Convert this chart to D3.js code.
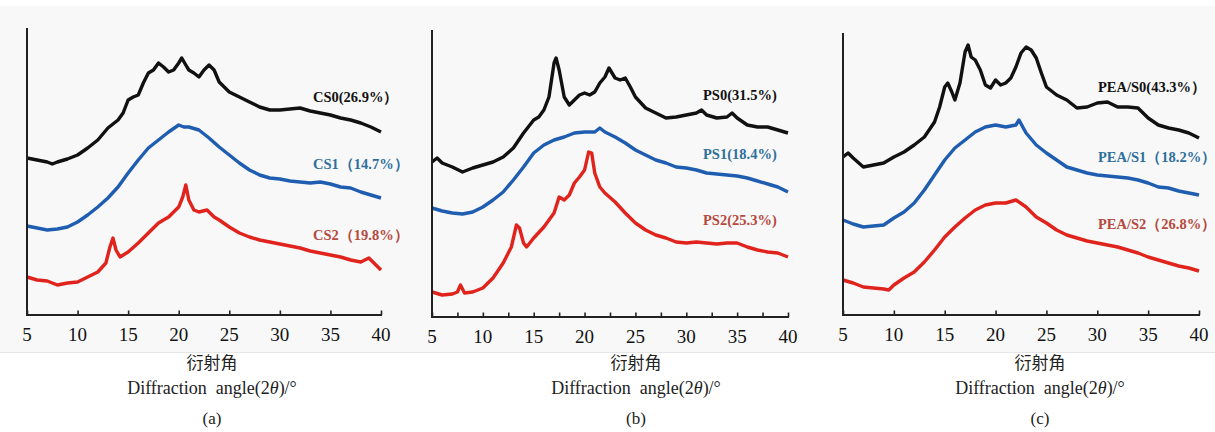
<!DOCTYPE html>
<html>
<head>
<meta charset="utf-8">
<script src="https://cdn.jsdelivr.net/npm/d3@7"></script>
<style>
  html, body { margin: 0; padding: 0; background: #ffffff; }
  svg { display: block; }
  .serif { font-family: "Liberation Serif", "Times New Roman", "DejaVu Serif", "Noto Serif", serif; }
  .cjk { font-family: "Noto Sans CJK SC", "Noto Sans CJK JP", sans-serif; }
</style>
</head>
<body>
<svg id="chart" width="1215" height="432"></svg>
<script>
// ---------------- data (2θ in degrees, intensity in arbitrary units) ----------------
const xTicks = [5, 10, 15, 20, 25, 30, 35, 40];
const panelLetters = ["(a)", "(b)", "(c)"];
const axisTitleCN = "衍射角";

// Panel (a)
const CS0 = [[5,157],[6,155],[7,153],[7.5,151],[8,153],[9,156],[10,160],[11,167],[12,175],[13,187],[14,195],[14.5,202],[15,215],[15.5,218],[16,220],[16.5,232],[17,242],[17.5,245],[18,252],[18.5,248],[19,243],[19.5,245],[20,252],[20.3,257],[20.7,250],[21,245],[21.5,242],[22,238],[22.5,245],[23,250],[23.5,245],[24,233],[24.5,228],[25,223],[26,218],[27,213],[28,208],[29,205],[30,205],[31,206],[32,207],[33,204],[34,202],[35,200],[36,197],[37,195],[38,192],[39,188],[40,183]];
const CS1 = [[5,89],[6,87],[7,85],[8,86],[9,88],[10,93],[11,100],[12,108],[13,117],[14,128],[15,142],[16,155],[17,167],[18,175],[19,183],[20,190],[20.5,188],[21,188],[22,185],[23,177],[24,168],[25,160],[26,152],[27,145],[28,140],[29,137],[30,136],[31,134],[32,133],[33,132],[34,133],[35,131],[36,128],[37,127],[38,123],[39,120],[40,117]];
const CS2 = [[5,38],[6,35],[7,34],[8,30],[9,32],[10,33],[11,38],[12,43],[12.8,52],[13.2,68],[13.5,77],[13.8,65],[14.2,58],[15,63],[16,72],[17,82],[18,92],[19,98],[20,108],[20.4,118],[20.7,130],[21,115],[21.5,105],[22,103],[22.8,105],[23.5,98],[24,95],[25,88],[26,82],[27,78],[28,75],[29,73],[30,71],[31,69],[32,67],[33,64],[34,62],[35,60],[36,58],[37,55],[38,53],[38.8,57],[39.5,50],[40,45]];

// Panel (b)
const PS0 = [[5,155],[5.5,159],[6,154],[7,150],[8,145],[9,149],[10,152],[11,155],[12,160],[13,169],[14,184],[15,197],[15.5,200],[16,207],[16.5,220],[17,254],[17.2,259],[17.5,247],[18,220],[18.5,212],[19,217],[19.5,222],[20,224],[20.5,222],[21,225],[21.5,234],[22,240],[22.4,249],[23,239],[23.5,237],[24,239],[24.5,230],[25,220],[26,209],[27,204],[28,199],[29,200],[30,202],[31,204],[31.5,207],[32,202],[33,199],[34,200],[34.5,204],[35,199],[36,192],[37,190],[38,190],[39,187],[40,184]];
const PS1 = [[5,109],[6,106],[7,104],[8,103],[9,105],[10,110],[11,117],[12,125],[13,137],[14,150],[15,164],[16,172],[17,177],[18,180],[19,184],[20,185],[21,185],[21.5,189],[22,185],[23,180],[24,174],[25,167],[26,162],[27,157],[28,154],[29,150],[30,149],[31,147],[32,144],[33,143],[34,142],[35,141],[36,139],[37,136],[38,133],[39,130],[40,125]];
const PS2 = [[5,25],[6,22],[7,23],[7.5,25],[7.8,32],[8.2,24],[9,25],[10,29],[11,39],[12,54],[12.8,70],[13.3,92],[13.6,89],[14,74],[14.3,70],[15,79],[16,90],[17,104],[17.5,120],[18,117],[18.5,122],[19,134],[19.5,140],[20,147],[20.4,165],[20.7,164],[21,144],[21.5,130],[22,124],[23,115],[24,104],[25,94],[26,87],[27,82],[28,79],[29,75],[30,74],[31,75],[32,74],[33,73],[34,74],[35,74],[36,70],[37,67],[38,65],[39,64],[40,60]];

// Panel (c)
const PEAS0 = [[5,158],[5.5,162],[6,157],[7,148],[8,150],[9,152],[10,158],[11,163],[12,170],[13,178],[14,193],[14.5,208],[15,228],[15.3,232],[15.7,223],[16,215],[16.5,232],[17,263],[17.3,270],[17.6,258],[18,255],[18.5,245],[19,230],[19.5,227],[20,235],[20.5,230],[21,232],[21.5,237],[22,248],[22.5,262],[23,268],[23.5,265],[24,257],[24.5,242],[25,228],[26,220],[27,215],[28,207],[29,208],[30,212],[31,213],[32,208],[33,208],[34,207],[35,197],[36,190],[37,187],[38,185],[39,182],[40,177]];
const PEAS1 = [[5,95],[6,91],[7,88],[8,89],[9,90],[10,97],[11,103],[12,112],[13,125],[14,140],[15,155],[16,167],[17,175],[18,183],[19,188],[20,190],[21,188],[22,190],[22.3,195],[23,182],[24,170],[25,162],[26,155],[27,148],[28,145],[29,142],[30,140],[31,139],[32,138],[33,137],[34,135],[35,132],[36,128],[37,127],[38,124],[39,122],[40,120]];
const PEAS2 = [[5,35],[6,32],[7,28],[8,27],[9,26],[9.5,25],[10,30],[11,37],[12,43],[13,53],[14,65],[15,78],[16,88],[17,97],[18,105],[19,110],[20,112],[21,112],[22,115],[23,108],[24,98],[25,92],[26,85],[27,80],[28,77],[29,74],[30,72],[31,70],[32,68],[33,65],[34,62],[35,58],[36,55],[37,52],[38,49],[39,47],[40,44]];

const seriesNames = [
  ["CS0(26.9%）", "CS1（14.7%）", "CS2（19.8%）"],
  ["PS0(31.5%)", "PS1(18.4%)", "PS2(25.3%)"],
  ["PEA/S0(43.3%）", "PEA/S1（18.2%）", "PEA/S2（26.8%）"]
];
const seriesData = [
  [CS0, CS1, CS2],
  [PS0, PS1, PS2],
  [PEAS0, PEAS1, PEAS2]
];

// ---------------- styling / layout ----------------
const lineColors = ["#111111", "#1f5db0", "#e0231d"];
const labelColors = ["#111111", "#2e6f9c", "#b6483d"];

const panels = [
  { x0: 27,  x1: 381,  yAxis: 315, yTop: 28, minor: false, cx: 212, labelX: 313, labelY: [102, 169, 240] },
  { x0: 432, x1: 788,  yAxis: 317, yTop: 30, minor: true,  cx: 636, labelX: 703, labelY: [100, 159, 225] },
  { x0: 843, x1: 1199, yAxis: 315, yTop: 33, minor: false, cx: 1040, labelX: 1098, labelY: [92, 162, 229] }
];

const svg = d3.select("#chart");

// light gray figure background band
svg.append("rect").attr("x", 0).attr("y", 6).attr("width", 1215).attr("height", 346).attr("fill", "#f8f8f8");
svg.append("line").attr("x1", 0).attr("x2", 1215).attr("y1", 352.5).attr("y2", 352.5)
  .attr("stroke", "#e6e6e6").attr("stroke-width", 1);

panels.forEach((p, i) => {
  const g = svg.append("g");
  const x = d3.scaleLinear().domain([5, 40]).range([p.x0, p.x1]);
  const y = d3.scaleLinear().domain([0, 290]).range([p.yAxis, p.yAxis - 290]);

  // curves
  const line = d3.line().x(d => x(d[0])).y(d => y(d[1])).curve(d3.curveLinear);
  seriesData[i].forEach((s, k) => {
    g.append("path").datum(s)
      .attr("d", line)
      .attr("fill", "none")
      .attr("stroke", lineColors[k])
      .attr("stroke-width", 3.4)
      .attr("stroke-linejoin", "round");
  });

  // series labels
  seriesNames[i].forEach((name, k) => {
    g.append("text")
      .attr("class", "serif")
      .attr("x", p.labelX).attr("y", p.labelY[k])
      .attr("font-weight", "bold")
      .attr("font-size", 14.5)
      .attr("fill", labelColors[k])
      .text(name);
  });

  // x axis ticks (inward)
  const ticks = p.minor ? d3.range(5, 40.01, 2.5) : xTicks;
  const xAxis = d3.axisBottom(x).tickValues(ticks).tickSize(0).tickFormat("");
  const ax = g.append("g").attr("transform", `translate(0,${p.yAxis})`).call(xAxis);
  ax.select(".domain").remove();
  ax.selectAll(".tick line").remove();
  ax.selectAll(".tick").append("line")
    .attr("y1", 0).attr("y2", -4.5).attr("stroke", "#222").attr("stroke-width", 1.6);

  g.append("line").attr("x1", p.x0 - 1).attr("x2", p.x1 + 1)
    .attr("y1", p.yAxis).attr("y2", p.yAxis)
    .attr("stroke", "#222").attr("stroke-width", 2);
  g.append("line").attr("x1", p.x0).attr("x2", p.x0)
    .attr("y1", p.yTop).attr("y2", p.yAxis)
    .attr("stroke", "#222").attr("stroke-width", 2);

  // tick labels
  g.selectAll("text.tl").data(xTicks).enter().append("text")
    .attr("class", "tl serif")
    .attr("x", d => x(d)).attr("y", p.yAxis + 26)
    .attr("text-anchor", "middle")
    .attr("font-size", 19)
    .attr("fill", "#111")
    .text(d => d);

  // axis titles
  g.append("text")
    .attr("class", "cjk")
    .attr("x", p.cx).attr("y", 369)
    .attr("text-anchor", "middle")
    .attr("font-size", 17)
    .attr("fill", "#222")
    .text(axisTitleCN);

  const t = g.append("text")
    .attr("class", "serif")
    .attr("x", p.cx).attr("y", 394)
    .attr("text-anchor", "middle")
    .attr("font-size", 18)
    .attr("fill", "#222")
    .style("white-space", "pre");
  t.append("tspan").text("Diffraction  angle(2");
  t.append("tspan").attr("font-style", "italic").text("θ");
  t.append("tspan").text(")/°");

  g.append("text")
    .attr("class", "serif")
    .attr("x", p.cx).attr("y", 424)
    .attr("text-anchor", "middle")
    .attr("font-size", 17)
    .attr("fill", "#222")
    .text(panelLetters[i]);
});
</script>
</body>
</html>
